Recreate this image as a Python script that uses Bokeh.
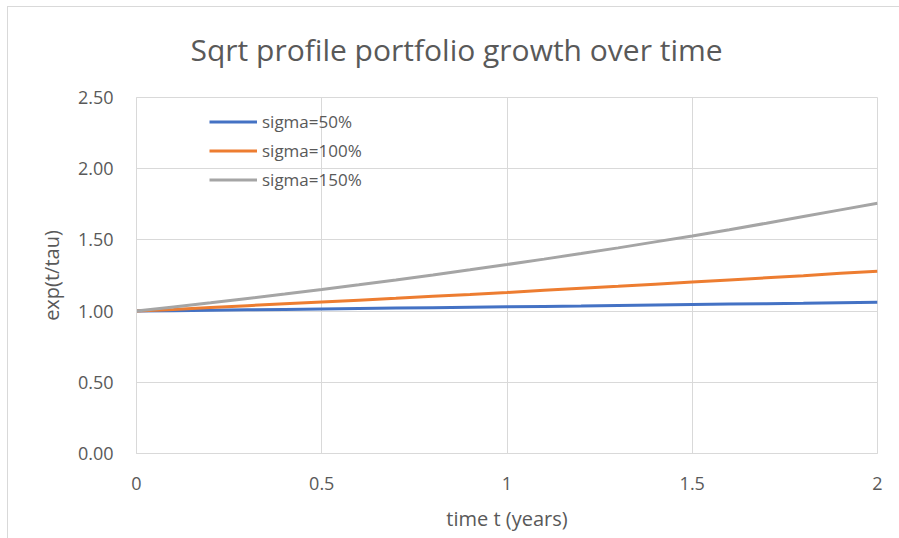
from bokeh.plotting import figure
from bokeh.models import Legend, LegendItem, FixedTicker, Range1d
from bokeh.embed import file_html
from bokeh.resources import INLINE

# ---- data ----
t_years = [0.0, 0.1, 0.2, 0.3, 0.4, 0.5, 0.6, 0.7, 0.8, 0.9, 1.0,
           1.1, 1.2, 1.3, 1.4, 1.5, 1.6, 1.7, 1.8, 1.9, 2.0]
sigma_50 = [1.000, 1.003, 1.006, 1.009, 1.012, 1.015, 1.018, 1.021, 1.024, 1.027, 1.030,
            1.033, 1.036, 1.040, 1.043, 1.046, 1.049, 1.052, 1.055, 1.059, 1.062]
sigma_100 = [1.000, 1.012, 1.025, 1.038, 1.051, 1.064, 1.077, 1.090, 1.104, 1.117, 1.131,
             1.146, 1.160, 1.174, 1.189, 1.204, 1.219, 1.234, 1.249, 1.265, 1.280]
sigma_150 = [1.000, 1.029, 1.058, 1.089, 1.120, 1.152, 1.185, 1.219, 1.254, 1.290, 1.327,
             1.365, 1.404, 1.444, 1.486, 1.528, 1.572, 1.617, 1.664, 1.711, 1.757]
series_names = ["sigma=50%", "sigma=100%", "sigma=150%"]
x_ticks = [0, 0.5, 1, 1.5, 2]
x_tick_labels = ["0", "0.5", "1", "1.5", "2"]
y_ticks = [0, 0.5, 1.0, 1.5, 2.0, 2.5]
y_tick_labels = ["0.00", "0.50", "1.00", "1.50", "2.00", "2.50"]
chart_title = "Sqrt profile portfolio growth over time"

FONT = "Open Sans"
TXT = "#595959"
GRID = "#d9d9d9"
colors = ["#4472C4", "#ED7D31", "#A5A5A5"]

p = figure(width=899, height=538, output_backend="svg", toolbar_location=None,
           x_range=Range1d(0, 2), y_range=Range1d(0, 2.5),
           min_border_left=136, min_border_right=22, min_border_top=96, min_border_bottom=85)
p.background_fill_color = "white"
p.border_fill_color = None
# thin light-grey chart-area border (top and left edges only, the rest is cropped)
p.styles = {
    "background": ("linear-gradient(#d9d9d9, #d9d9d9) 7px 6px / 892px 1px no-repeat, "
                   "linear-gradient(#d9d9d9, #d9d9d9) 7px 6px / 1px 532px no-repeat, white"),
}
p.outline_line_color = GRID
p.outline_line_width = 1

p.title.text = chart_title
p.title.text_font = FONT
p.title.text_font_size = "30px"
p.title.text_font_style = "normal"
p.title.text_color = TXT
p.title.align = "left"
p.title.offset = 54
p.title.standoff = 54
p.title.vertical_align = "middle"

renderers = []
for ys, c in zip([sigma_50, sigma_100, sigma_150], colors):
    r = p.line(t_years, ys, line_color=c, line_width=3)
    renderers.append(r)

# axes
p.xaxis.ticker = FixedTicker(ticks=x_ticks)
p.xaxis.major_label_overrides = {k: v for k, v in zip(x_ticks, x_tick_labels)}
p.yaxis.ticker = FixedTicker(ticks=y_ticks)
p.yaxis.major_label_overrides = {k: v for k, v in zip(y_ticks, y_tick_labels)}
for ax in (p.xaxis[0], p.yaxis[0]):
    ax.axis_line_color = GRID
    ax.major_tick_line_color = None
    ax.minor_tick_line_color = None
    ax.major_label_text_font = FONT
    ax.major_label_text_font_size = "18px"
    ax.major_label_text_color = TXT
    ax.axis_label_text_font = FONT
    ax.axis_label_text_font_size = "20px"
    ax.axis_label_text_font_style = "normal"
    ax.axis_label_text_color = TXT
p.xaxis.axis_label = "time t (years)"
p.yaxis.axis_label = "exp(t/tau)"
p.xaxis.major_label_standoff = 17
p.xaxis.axis_label_standoff = 12
p.yaxis.major_label_standoff = 17
p.yaxis.axis_label_standoff = 10

p.xgrid.ticker = FixedTicker(ticks=x_ticks)
p.ygrid.ticker = FixedTicker(ticks=y_ticks)
p.xgrid.grid_line_color = GRID
p.ygrid.grid_line_color = GRID

# legend
items = [LegendItem(label=n, renderers=[r]) for n, r in zip(series_names, renderers)]
legend = Legend(items=items, location=(73, 259), orientation="vertical",
                border_line_color=None, background_fill_alpha=0,
                padding=0, margin=0, spacing=0,
                glyph_width=48, glyph_height=29, label_height=29, label_standoff=5,
                label_text_font=FONT, label_text_font_size="17px", label_text_color=TXT)
p.add_layout(legend)

open("out.html", "w").write(file_html(p, INLINE))
